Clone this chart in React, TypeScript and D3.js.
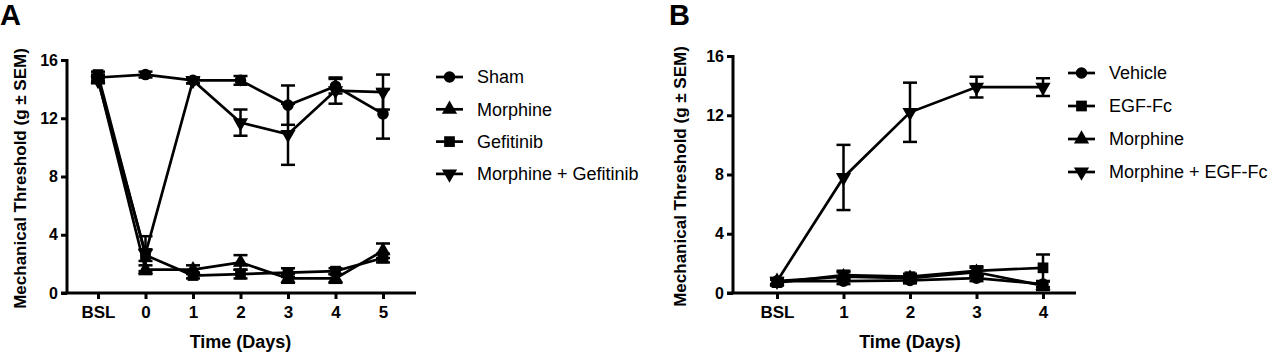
import React, { useEffect, useRef } from "react";
import * as d3 from "d3";

// Panel A: days and values (g ± SEM)
const daysA = ["BSL", "0", "1", "2", "3", "4", "5"];
const shamA = [14.8, 15.0, 14.6, 14.6, 12.9, 14.2, 12.3];
const shamErrA = [0.2, 0.2, 0.2, 0.3, 1.35, 0.5, 1.7];
const morphineA = [14.7, 1.6, 1.6, 2.1, 1.0, 1.0, 2.9];
const morphineErrA = [0.2, 0.3, 0.3, 0.5, 0.3, 0.3, 0.5];
const gefitinibA = [15.0, 2.6, 1.2, 1.3, 1.4, 1.5, 2.4];
const gefitinibErrA = [0.2, 0.4, 0.2, 0.3, 0.3, 0.2, 0.3];
const morphGefA = [14.6, 2.7, 14.6, 11.7, 10.9, 13.9, 13.8];
const morphGefErrA = [0.2, 1.2, 0.2, 0.9, 2.1, 0.9, 1.2];

// Panel B
const daysB = ["BSL", "1", "2", "3", "4"];
const vehicleB = [0.8, 0.8, 0.85, 1.0, 0.6];
const vehicleErrB = [0.2, 0.2, 0.2, 0.2, 0.2];
const egfB = [0.7, 1.2, 1.1, 1.5, 1.7];
const egfErrB = [0.2, 0.3, 0.2, 0.3, 0.9];
const morphineB = [0.8, 1.1, 1.0, 1.4, 0.5];
const morphineErrB = [0.2, 0.3, 0.2, 0.3, 0.3];
const morphEgfB = [0.8, 7.8, 12.2, 13.9, 13.9];
const morphEgfErrB = [0.2, 2.2, 2.0, 0.7, 0.6];

const yTicks = [0, 4, 8, 12, 16];
const FONT = "'Liberation Sans', Arial, Helvetica, sans-serif";

type Series = { name: string; shape: string; values: number[]; errs: number[] };

const seriesA: Series[] = [
  { name: "Sham", shape: "circle", values: shamA, errs: shamErrA },
  { name: "Morphine", shape: "up", values: morphineA, errs: morphineErrA },
  { name: "Gefitinib", shape: "square", values: gefitinibA, errs: gefitinibErrA },
  { name: "Morphine + Gefitinib", shape: "down", values: morphGefA, errs: morphGefErrA },
];

const seriesB: Series[] = [
  { name: "Vehicle", shape: "circle", values: vehicleB, errs: vehicleErrB },
  { name: "EGF-Fc", shape: "square", values: egfB, errs: egfErrB },
  { name: "Morphine", shape: "up", values: morphineB, errs: morphineErrB },
  { name: "Morphine + EGF-Fc", shape: "down", values: morphEgfB, errs: morphEgfErrB },
];

/** Returns a path string for the marker shape. */
function markerPath(shape: string) {
  if (shape === "circle") return d3.symbol(d3.symbolCircle, 105)()!;
  if (shape === "square") return d3.symbol(d3.symbolSquare, 115)()!;
  return d3.symbol(d3.symbolTriangle, 100)()!;
}

function drawMarker(g: any, shape: string, x: number, y: number) {
  g.append("path")
    .attr("d", markerPath(shape))
    .attr("transform", `translate(${x},${y})` + (shape === "down" ? " rotate(180)" : ""))
    .attr("fill", "black");
}

/** Draws one panel: axes, series, error bars and legend. */
function drawPanel(svg: any, cfg: any) {
  const { days, series, xRange, yRange, axisX, axisEnd, letter, letterX, yLabelX, legendX, legendY, legendStep } = cfg;
  const g = svg.append("g");

  const x = d3.scalePoint().domain(days).range(xRange);
  const y = d3.scaleLinear().domain([0, 16]).range(yRange);

  // Panel letter
  g.append("text")
    .attr("x", letterX)
    .attr("y", 25)
    .attr("font-family", FONT)
    .attr("font-weight", "bold")
    .attr("font-size", 29)
    .text(letter);

  // Y axis
  const yAxis = g
    .append("g")
    .attr("transform", `translate(${axisX},0)`)
    .call(d3.axisLeft(y).tickValues(yTicks).tickSize(6).tickSizeOuter(0).tickPadding(3));
  yAxis.select(".domain").attr("stroke-width", 3).attr("d", `M0,${yRange[1] - 1}V${yRange[0]}`);
  yAxis.selectAll(".tick line").attr("stroke-width", 3);
  yAxis
    .selectAll(".tick text")
    .attr("font-family", FONT)
    .attr("font-weight", "bold")
    .attr("font-size", 16)
    .attr("fill", "black");

  // X axis
  const xAxis = g
    .append("g")
    .attr("transform", `translate(0,${yRange[0]})`)
    .call(d3.axisBottom(x).tickSize(6).tickPadding(7));
  xAxis.select(".domain").attr("stroke-width", 3).attr("d", `M${axisX - 6},0H${axisEnd}`);
  xAxis.selectAll(".tick line").attr("stroke-width", 3);
  xAxis
    .selectAll(".tick text")
    .attr("font-family", FONT)
    .attr("font-weight", "bold")
    .attr("font-size", 17)
    .attr("fill", "black");

  // Axis titles
  g.append("text")
    .attr("transform", `translate(${yLabelX},${(yRange[0] + yRange[1]) / 2 + 2}) rotate(-90)`)
    .attr("text-anchor", "middle")
    .attr("dy", "0.35em")
    .attr("font-family", FONT)
    .attr("font-weight", "bold")
    .attr("font-size", 17)
    .text("Mechanical Threshold (g ± SEM)");

  g.append("text")
    .attr("x", (xRange[0] + xRange[1]) / 2)
    .attr("y", 348)
    .attr("text-anchor", "middle")
    .attr("font-family", FONT)
    .attr("font-weight", "bold")
    .attr("font-size", 18)
    .text("Time (Days)");

  const line = d3
    .line<number>()
    .x((d, i) => x(days[i])!)
    .y((d) => y(d));

  // Lines
  series.forEach((s: Series) => {
    g.append("path")
      .attr("d", line(s.values))
      .attr("fill", "none")
      .attr("stroke", "black")
      .attr("stroke-width", 2.7);
  });

  // Error bars
  series.forEach((s: Series) => {
    s.values.forEach((v, i) => {
      const cx = x(days[i])!;
      const top = y(v + s.errs[i]);
      const bot = y(v - s.errs[i]);
      const eb = g.append("g").attr("stroke", "black").attr("stroke-width", 2.5);
      eb.append("line").attr("x1", cx).attr("x2", cx).attr("y1", top).attr("y2", bot);
      eb.append("line").attr("x1", cx - 7).attr("x2", cx + 7).attr("y1", top).attr("y2", top);
      eb.append("line").attr("x1", cx - 7).attr("x2", cx + 7).attr("y1", bot).attr("y2", bot);
    });
  });

  // Markers
  series.forEach((s: Series) => {
    s.values.forEach((v, i) => drawMarker(g, s.shape, x(days[i])!, y(v)));
  });

  // Legend
  series.forEach((s: Series, i: number) => {
    const ly = legendY + i * legendStep;
    g.append("line")
      .attr("x1", legendX)
      .attr("x2", legendX + 27)
      .attr("y1", ly)
      .attr("y2", ly)
      .attr("stroke", "black")
      .attr("stroke-width", 2.7);
    drawMarker(g, s.shape, legendX + 13.5, ly);
    g.append("text")
      .attr("x", legendX + 41)
      .attr("y", ly)
      .attr("dy", "0.35em")
      .attr("font-family", FONT)
      .attr("font-size", 18)
      .text(s.name);
  });
}

export default function App() {
  const ref = useRef<SVGSVGElement>(null);

  useEffect(() => {
    const svg = d3.select(ref.current);
    svg.selectAll("*").remove();

    drawPanel(svg, {
      days: daysA,
      series: seriesA,
      xRange: [98, 383],
      yRange: [293, 60],
      axisX: 67,
      axisEnd: 416,
      letter: "A",
      letterX: 0,
      yLabelX: 20,
      legendX: 436,
      legendY: 77,
      legendStep: 32.3,
    });

    drawPanel(svg, {
      days: daysB,
      series: seriesB,
      xRange: [777, 1043],
      yRange: [293, 56],
      axisX: 733,
      axisEnd: 1076,
      letter: "B",
      letterX: 669,
      yLabelX: 680,
      legendX: 1068,
      legendY: 73,
      legendStep: 33,
    });
  }, []);

  return (
    <svg
      ref={ref}
      width={1280}
      height={354}
      style={{ position: "absolute", left: 0, top: 0, background: "white" }}
    ></svg>
  );
}
